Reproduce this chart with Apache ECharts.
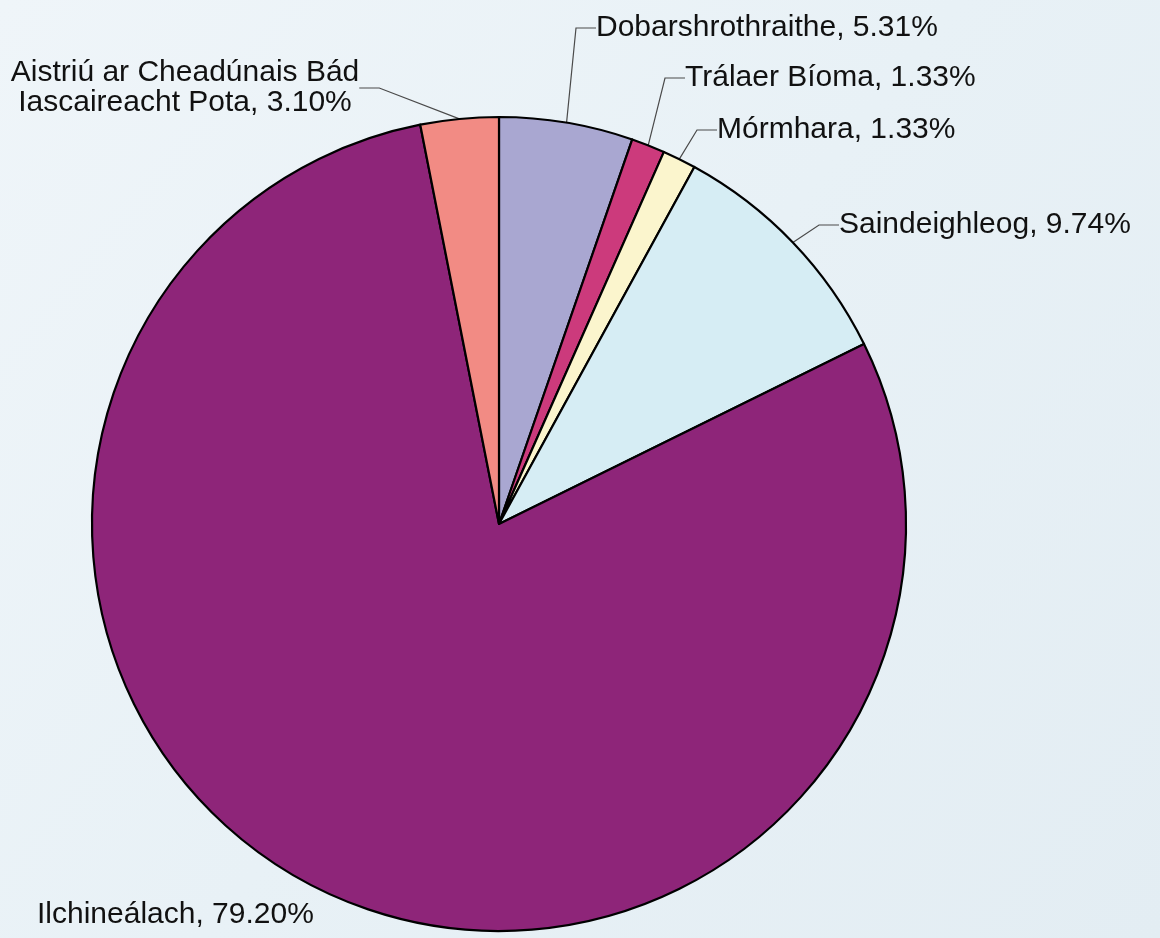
<!DOCTYPE html>
<html>
<head>
<meta charset="utf-8">
<script src="https://cdn.jsdelivr.net/npm/echarts@6/dist/echarts.min.js"></script>
<style>
  html, body { margin: 0; padding: 0; }
  #main { width: 1160px; height: 938px; }
</style>
</head>
<body>
<div id="main"></div>
<script type="text/javascript">
// slices clockwise from 12 o'clock
var names = ['Dobarshrothraithe', 'Trálaer Bíoma', 'Mórmhara', 'Saindeighleog', 'Ilchineálach', 'Aistriú ar Cheadúnais Bád\nIascaireacht Pota'];
var shares = [5.31, 1.33, 1.33, 9.74, 79.20, 3.10];
var colors = ['#a9a7d1', '#cc3a7c', '#fbf5cd', '#d6edf4', '#8e2579', '#f28b84'];

// where each label sits (x, y, align)
var labelPos = [
    [596, 28, 'left'],
    [685, 78, 'left'],
    [717, 130, 'left'],
    [839, 225, 'left'],
    [37, 915, 'left'],
    [185, 88, 'center']
];

var data = names.map(function (n, i) {
    return {
        name: n,
        value: shares[i],
        itemStyle: { color: colors[i] },
        labelLine: { show: i !== 4 }
    };
});

var myChart = echarts.init(document.getElementById('main'));
var option = {
    backgroundColor: {
        type: 'linear', x: 0, y: 0, x2: 1, y2: 1,
        colorStops: [
            { offset: 0, color: '#eff5f9' },
            { offset: 0.5, color: '#e8f1f6' },
            { offset: 1, color: '#e3edf3' }
        ]
    },
    animation: false,
    series: [
        {
            type: 'pie',
            center: [499, 524],
            radius: 407,
            startAngle: 90,
            clockwise: true,
            avoidLabelOverlap: false,
            itemStyle: { borderColor: '#000', borderWidth: 2.2 },
            label: {
                position: 'outside',
                fontFamily: 'Liberation Sans',
                fontSize: 30,
                color: '#111',
                lineHeight: 30,
                formatter: function (p) {
                    return p.name + ', ' + p.value.toFixed(2) + '%';
                }
            },
            labelLine: {
                show: true,
                length: 20,
                length2: 20,
                lineStyle: { color: '#4a4a4a', width: 1.2 }
            },
            labelLayout: function (p) {
                var lp = labelPos[p.dataIndex];
                return { x: lp[0], y: lp[1], align: lp[2], verticalAlign: 'middle' };
            },
            data: data
        }
    ]
};
myChart.setOption(option);
</script>
</body>
</html>
